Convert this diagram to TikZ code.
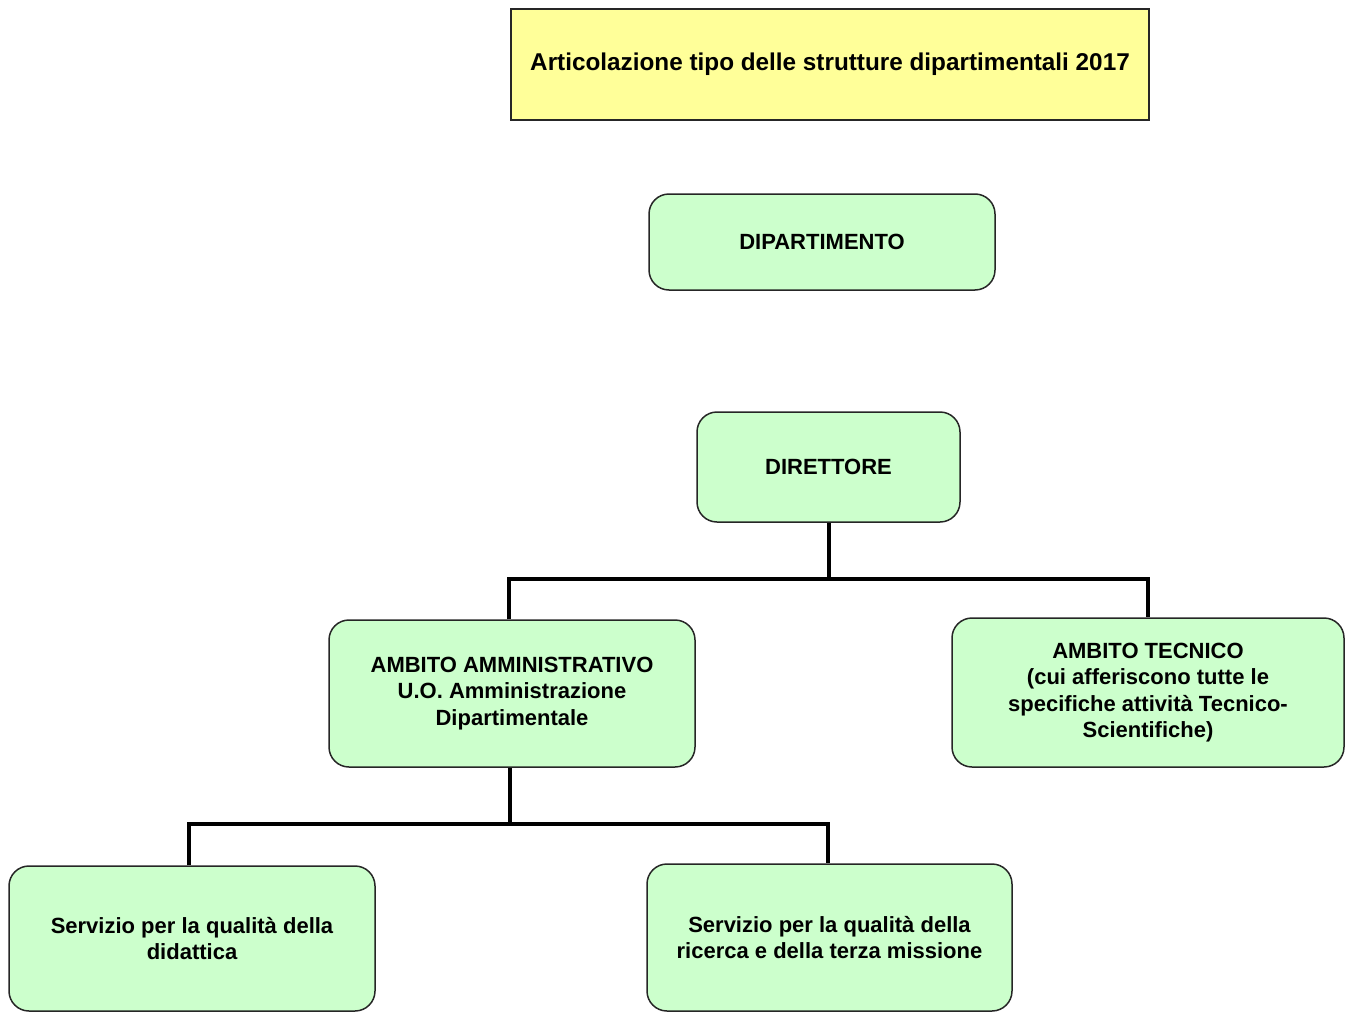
\documentclass[tikz,border=0pt]{standalone}
\usepackage{fontspec}
\setmainfont{Liberation Sans}
\definecolor{boxgreen}{HTML}{CCFFCC}
\definecolor{titleyellow}{HTML}{FFFF99}

\begin{document}
\begin{tikzpicture}[x=1pt, y=-1pt, line join=miter,
  font=\fontsize{22}{26.5}\selectfont\bfseries,
  unitbox/.style={draw=black!85, line width=1.5pt, fill=boxgreen, rounded corners=20pt,
    align=center, inner sep=0pt},
  link/.style={line width=4pt}]
  \useasboundingbox (0,0) rectangle (1351,1014);
  % title
  \node[draw=black!85, line width=1.5pt, fill=titleyellow, minimum width=638pt, minimum height=111pt,
    font=\fontsize{24.3}{28}\selectfont\bfseries] (title) at (830,64.5)
    {Articolazione tipo delle strutture dipartimentali 2017};
  % top levels
  \node[unitbox, minimum width=346pt, minimum height=96pt] (dip) at (822,242) {DIPARTIMENTO};
  \node[unitbox, minimum width=263pt, minimum height=110pt] (dir) at (828.5,467) {DIRETTORE};
  % ambiti
  \node[unitbox, minimum width=366pt, minimum height=147pt] (amm) at (512,693.5)
    {AMBITO AMMINISTRATIVO\\U.O. Amministrazione\\Dipartimentale};
  \node[unitbox, minimum width=392pt, minimum height=149pt] (tec) at (1148,692.5)
    {AMBITO TECNICO\\(cui afferiscono tutte le\\specifiche attività Tecnico-\\Scientifiche)};
  % servizi
  \node[unitbox, minimum width=366pt, minimum height=145pt] (did) at (192,938.5)
    {Servizio per la qualità della\\didattica};
  \node[unitbox, minimum width=365pt, minimum height=147pt] (ric) at (829.5,937.5)
    {Servizio per la qualità della\\ricerca e della terza missione};
  % connectors
  \coordinate (j1) at (828.5,579);
  \coordinate (j2) at (510,824);
  \draw[link] (dir.south) -- (j1);
  \draw[link] ([xshift=-3pt]amm.north) |- (j1) -| (tec.north);
  \draw[link] ([xshift=-2pt]amm.south) -- (j2);
  \draw[link] ([xshift=-3pt]did.north) |- (j2) -| ([xshift=-1.5pt]ric.north);
\end{tikzpicture}
\end{document}
